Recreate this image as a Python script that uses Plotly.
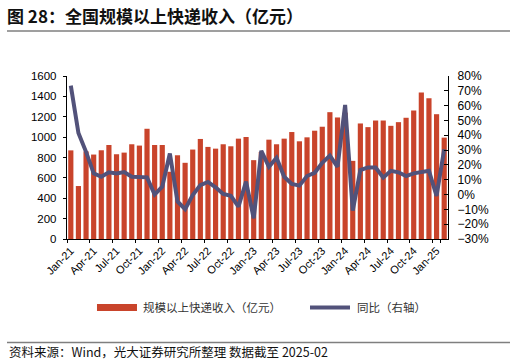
import plotly.graph_objects as go

MONTHS = ["Jan", "Feb", "Mar", "Apr", "May", "Jun", "Jul", "Aug", "Sep", "Oct", "Nov", "Dec"]
categories = [f"{m}-{y}" for y in ["21", "22", "23", "24"] for m in MONTHS] + ["Jan-25", "Feb-25"]

# 规模以上快递收入（亿元）
revenue = [870, 520, 860, 829, 871, 923, 832, 848, 930, 917, 1082, 923,
           923, 660, 822, 748, 878, 982, 904, 887, 930, 910, 985, 1001,
           774, 855, 975, 930, 985, 1050, 959, 998, 1063, 1102, 1245, 1193,
           1240, 767, 1134, 1098, 1163, 1163, 1111, 1147, 1190, 1261, 1437, 1381,
           1225, 995]

# 同比（%，右轴）
yoy = [73.5, 41.5, 28.8, 14.3, 12.0, 15.0, 14.3, 15.2, 12.0, 12.0, 11.6, 0.0,
       5.3, 27.7, -4.7, -9.9, -0.3, 6.4, 8.5, 4.9, 0.4, -0.9, -8.1, 8.7,
       -16.0, 29.5, 18.7, 24.8, 12.0, 7.1, 6.0, 12.5, 14.7, 21.4, 26.3, 18.7,
       60.5, -10.8, 16.5, 18.3, 18.3, 11.4, 16.0, 15.0, 12.5, 14.3, 15.4, 16.0,
       -0.9, 30.6]

tick_labels = categories[::3]
legend_names = ["规模以上快递收入（亿元）", "同比（右轴）"]

BAR_COLOR = "#C9442B"
LINE_COLOR = "#52527A"
FONT = "Liberation Sans, Arial, Noto Sans CJK SC, sans-serif"
CJK = "Noto Sans CJK SC, Liberation Sans, sans-serif"

fig = go.Figure()
fig.add_trace(go.Bar(x=categories, y=revenue, name=legend_names[0],
                     marker=dict(color=BAR_COLOR, line=dict(width=0)),
                     showlegend=False, yaxis="y"))
fig.add_trace(go.Scatter(x=categories, y=yoy, name=legend_names[1], mode="lines",
                         line=dict(color=LINE_COLOR, width=4),
                         showlegend=False, yaxis="y2"))

LEG_Y = -0.4202
fig.update_layout(
    width=516, height=363,
    margin=dict(l=67, r=68, t=76, b=124, autoexpand=False),
    paper_bgcolor="white", plot_bgcolor="white",
    font=dict(family=FONT, size=12, color="#000000"),
    bargap=0.32,
    showlegend=False,
    title=dict(text="<b>图 28：全国规模以上快递收入（亿元）</b>",
               font=dict(family=CJK, size=17, color="#111111"),
               x=7 / 516, xanchor="left", xref="container",
               y=1 - 17 / 363, yanchor="middle", yref="container"),
    xaxis=dict(type="category", range=[-0.5, 49.5], tickvals=tick_labels, ticktext=tick_labels,
               tickangle=-45, tickfont=dict(size=11, family=FONT), automargin=False,
               showline=True, linecolor="#000000", linewidth=1.2,
               ticks="outside", ticklen=3, tickcolor="#000000", tickson="boundaries",
               showgrid=False, zeroline=False),
    yaxis=dict(range=[0, 1600], dtick=200, showline=True, linecolor="#000000", linewidth=1.2,
               ticks="outside", ticklen=3, tickcolor="#000000", tickfont=dict(size=11.5),
               showgrid=False, zeroline=False, ticklabelstandoff=4, automargin=False),
    yaxis2=dict(range=[-30, 80], dtick=10, ticksuffix="%", overlaying="y", side="right",
                showline=True, linecolor="#000000", linewidth=1.2,
                ticks="inside", ticklen=4, tickcolor="#000000", tickfont=dict(size=12),
                showgrid=False, zeroline=False, ticklabelstandoff=6, automargin=False),
    shapes=[
        dict(type="line", xref="paper", yref="paper", x0=-0.1575, x1=1.1627, y0=1.276, y1=1.276,
             line=dict(color="#7F7F7F", width=1.5)),
        dict(type="line", xref="paper", yref="paper", x0=-0.1575, x1=1.1627, y0=-0.635, y1=-0.635,
             line=dict(color="#7F7F7F", width=1.5)),
        # legend keys
        dict(type="rect", xref="paper", yref="paper", x0=0.0787, x1=0.1837, y0=-0.3988, y1=-0.4417,
             fillcolor=BAR_COLOR, line=dict(width=0)),
        dict(type="line", xref="paper", yref="paper", x0=0.6378, x1=0.7428, y0=LEG_Y, y1=LEG_Y,
             line=dict(color=LINE_COLOR, width=4)),
    ],
    annotations=[
        dict(text=legend_names[0], xref="paper", yref="paper", x=0.1942, y=LEG_Y,
             xanchor="left", yanchor="middle", showarrow=False,
             font=dict(family=CJK, size=11.5, color="#333333")),
        dict(text=legend_names[1], xref="paper", yref="paper", x=0.7559, y=LEG_Y,
             xanchor="left", yanchor="middle", showarrow=False,
             font=dict(family=CJK, size=11.5, color="#333333")),
        dict(text="资料来源：Wind，光大证券研究所整理 数据截至 2025-02", xref="paper", yref="paper",
             x=-0.1575, y=-0.693, xanchor="left", yanchor="middle", showarrow=False,
             font=dict(family=CJK, size=12.5, color="#111111")),
    ],
)

fig.write_html("out.html", config={"displayModeBar": False, "staticPlot": True},
               post_script="document.body.style.margin='0px';document.body.style.padding='0px';")
